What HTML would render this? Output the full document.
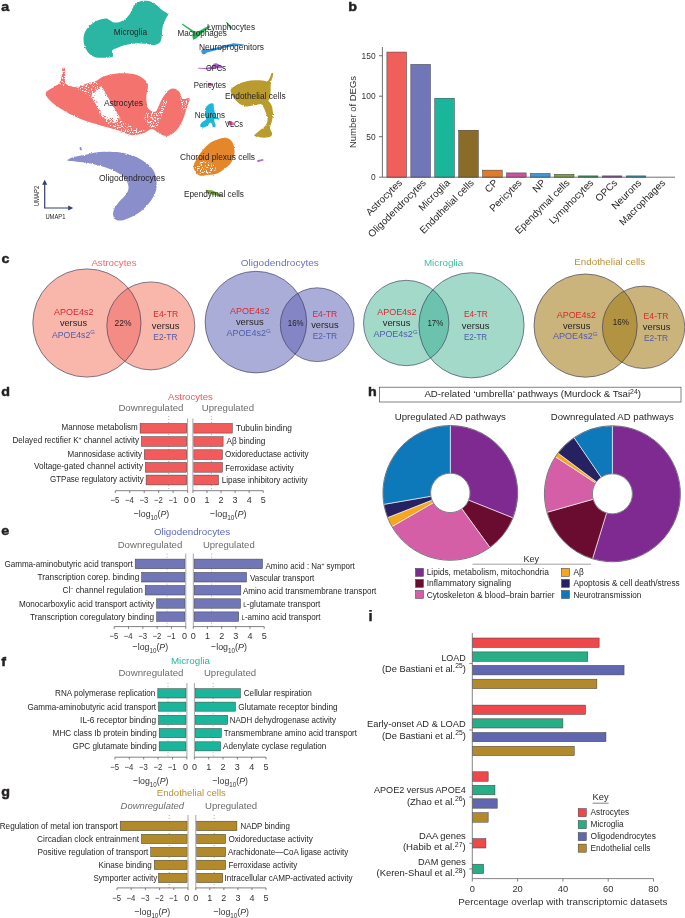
<!DOCTYPE html>
<html lang="en"><head><meta charset="utf-8"><title>Figure</title>
<style>
html,body{margin:0;padding:0;background:#fff}
body{width:685px;height:918px;overflow:hidden}
svg{display:block;font-family:'Liberation Sans', sans-serif;fill:#231f20}
</style></head><body>
<svg width="685" height="918" viewBox="0 0 685 918" font-family="'Liberation Sans', sans-serif">
<rect width="685" height="918" fill="#fff"/>
<!-- panel_a -->
<g id="panel_a">
<defs><filter id="rough" x="-5%" y="-5%" width="110%" height="110%"><feTurbulence type="fractalNoise" baseFrequency="0.9" numOctaves="2" seed="3" result="n"/><feDisplacementMap in="SourceGraphic" in2="n" scale="2.2" xChannelSelector="R" yChannelSelector="G"/></filter><filter id="rough2" x="-5%" y="-5%" width="110%" height="110%"><feTurbulence type="fractalNoise" baseFrequency="1.1" numOctaves="2" seed="8" result="n"/><feDisplacementMap in="SourceGraphic" in2="n" scale="5" xChannelSelector="R" yChannelSelector="G"/></filter><filter id="speckHi" x="0" y="0" width="100%" height="100%"><feTurbulence type="fractalNoise" baseFrequency="0.8" numOctaves="1" seed="5" result="n"/><feColorMatrix in="n" type="matrix" values="0 0 0 0 1  0 0 0 0 1  0 0 0 0 1  0 0 0 10 -4.2" result="m"/><feComposite in="m" in2="SourceGraphic" operator="in"/></filter><filter id="speckMid" x="0" y="0" width="100%" height="100%"><feTurbulence type="fractalNoise" baseFrequency="0.8" numOctaves="1" seed="11" result="n"/><feColorMatrix in="n" type="matrix" values="0 0 0 0 1  0 0 0 0 1  0 0 0 0 1  0 0 0 10 -5.1" result="m"/><feComposite in="m" in2="SourceGraphic" operator="in"/></filter><filter id="speckLo" x="0" y="0" width="100%" height="100%"><feTurbulence type="fractalNoise" baseFrequency="0.8" numOctaves="1" seed="7" result="n"/><feColorMatrix in="n" type="matrix" values="0 0 0 0 1  0 0 0 0 1  0 0 0 0 1  0 0 0 10 -5.4" result="m"/><feComposite in="m" in2="SourceGraphic" operator="in"/></filter></defs>
<text x="1.30" y="10.95" font-size="13.6" font-weight="bold" stroke="#231f20" stroke-width="0.5" textLength="7.94" lengthAdjust="spacingAndGlyphs">a</text>
<path filter="url(#rough)" d="M145.3,0.8C143.3,0.9 140.2,1.1 138.3,2.0C136.4,2.9 135.2,4.2 133.9,6.1C132.6,7.9 131.7,11.1 130.4,13.1C129.1,15.1 127.8,16.9 126.0,18.4C124.2,19.9 121.9,21.2 119.9,21.9C117.9,22.6 115.5,22.7 113.8,22.4C112.0,22.1 110.7,20.8 109.4,20.1C108.1,19.4 108.1,18.2 105.9,18.4C103.7,18.5 99.2,19.6 96.3,21.0C93.4,22.4 90.5,24.8 88.4,27.1C86.4,29.4 84.7,32.2 84.0,35.0C83.3,37.8 83.4,41.0 84.0,43.8C84.6,46.6 85.8,49.5 87.5,51.7C89.2,53.9 91.6,55.9 94.5,56.9C97.4,57.9 101.9,57.9 105.0,57.8C108.1,57.7 111.7,57.6 112.9,56.4C114.1,55.2 111.4,52.2 112.0,50.8C112.6,49.4 114.4,49.1 116.4,48.2C118.5,47.3 121.2,46.0 124.3,45.2C127.4,44.4 131.3,43.6 134.8,43.4C138.3,43.2 142.1,43.5 145.3,43.8C148.5,44.1 151.5,45.5 154.0,45.2C156.5,44.9 158.9,43.7 160.2,42.0C161.5,40.3 161.5,37.6 161.9,35.0C162.3,32.4 162.1,29.1 162.8,26.3C163.5,23.5 165.1,20.4 166.0,18.4C166.9,16.3 168.5,15.3 168.0,14.0C167.5,12.7 164.8,12.1 162.8,10.5C160.8,8.9 157.9,5.9 155.8,4.4C153.8,2.9 152.2,2.0 150.5,1.4C148.8,0.8 147.3,0.7 145.3,0.8Z" fill="#2bb6a3"/>
<path filter="url(#rough)" d="M45.8,92.7C46.4,90.4 51.6,88.7 54.0,86.9C56.4,85.2 58.6,84.4 59.9,82.2C61.2,80.0 61.6,76.4 62.0,74.0C62.4,71.6 61.9,68.9 62.4,68.0C62.9,67.1 64.5,67.3 65.0,68.6C65.5,69.9 65.2,73.5 65.3,76.0C65.4,78.5 64.1,81.6 65.7,83.4C67.3,85.2 71.5,86.9 75.0,86.9C78.5,86.9 83.2,84.4 86.7,83.4C90.2,82.4 93.3,82.1 96.0,81.0C98.7,79.9 99.5,78.0 103.0,76.8C106.5,75.6 111.9,74.1 117.0,73.6C122.1,73.1 128.8,73.0 133.5,74.0C138.2,75.0 142.6,78.0 145.0,79.9C147.4,81.9 147.7,83.7 148.0,85.7C148.3,87.7 147.3,90.0 147.0,92.0C146.7,94.0 146.3,95.4 146.3,97.4C146.3,99.4 146.6,102.1 147.0,104.0C147.4,105.9 147.6,107.8 148.6,109.0C149.6,110.2 151.6,111.3 153.0,111.5C154.4,111.7 155.4,112.2 156.8,110.2C158.2,108.2 159.8,102.8 161.5,99.7C163.2,96.6 165.4,93.4 167.3,91.5C169.2,89.6 171.2,88.5 173.2,88.5C175.1,88.5 177.4,89.8 179.0,91.5C180.6,93.2 180.8,97.4 182.5,98.6C184.2,99.8 188.7,97.1 189.5,98.4C190.3,99.8 188.4,103.0 187.2,106.7C186.0,110.4 184.4,116.6 182.5,120.7C180.6,124.8 178.0,128.8 175.5,131.3C173.0,133.9 170.0,135.6 167.3,136.0C164.6,136.4 161.8,134.8 159.2,133.6C156.6,132.4 154.7,129.0 152.0,129.0C149.3,129.0 146.3,132.6 142.8,133.6C139.3,134.6 135.3,135.6 131.0,135.0C126.7,134.4 122.0,131.6 117.0,130.0C112.0,128.4 106.5,127.1 100.7,125.4C94.9,123.7 88.2,122.1 82.0,119.6C75.8,117.1 68.7,113.3 63.4,110.2C58.1,107.1 53.4,103.8 50.5,100.9C47.6,98.0 45.2,95.0 45.8,92.7Z" fill="#f4736e"/>
<path filter="url(#rough2)" d="M96.1,91.5 L101.2,87.6 L107.8,98.6 L118.3,117.2 L114.8,119.6 L107.8,117.2 L102.6,114.9 L97.9,104.4 L94.2,97.4Z" fill="#fff"/>
<path filter="url(#speckHi)" d="M93,92 L101.5,86 L109,99 L120.5,118.5 L116,122.5 L107,119.5 L100.5,116.5 L96,105 L91.5,97Z" fill="#fff"/>
<path filter="url(#speckLo)" d="M75,84.5 L94.9,81.5 L101.2,86.9 L94.9,91.5 L92.6,98.6 L84.4,92.7 L77.4,89.2Z" fill="#fff"/>
<path filter="url(#speckLo)" d="M103,116 L119.4,118.4 L133.5,127.8 L145.1,130 L142.8,133.6 L128.8,134.3 L114.8,128.9 L105.4,123Z" fill="#fff"/>
<path filter="url(#speckMid)" d="M142.8,114.9 L149.8,110.9 L158,111.9 L163.8,98.6 L167.3,100.9 L161.5,116 L156.8,127.8 L149.8,127.8 L145.1,120.7Z" fill="#fff"/>
<path filter="url(#speckLo)" d="M180.2,95 L189.5,98.6 L186,110.2 L182,112.6Z" fill="#fff"/>
<path filter="url(#speckLo)" d="M57,86 L62,70 L66,70 L67,86Z" fill="#fff"/>
<path filter="url(#rough)" d="M67.4,160.6C66.8,159.8 70.2,158.1 73.1,157.2C75.9,156.2 80.1,155.8 84.5,154.9C88.9,154.0 94.0,152.3 99.7,151.9C105.4,151.5 113.0,151.6 118.7,152.3C124.4,153.0 129.2,154.2 133.9,156.1C138.6,158.0 143.6,160.8 147.1,163.6C150.6,166.4 153.1,169.3 154.7,173.1C156.3,176.9 156.9,182.3 156.6,186.4C156.3,190.5 155.0,194.0 152.8,197.8C150.6,201.6 146.8,206.0 143.3,209.2C139.8,212.4 135.7,214.9 131.9,216.8C128.1,218.7 123.6,220.4 120.6,220.6C117.6,220.8 115.2,219.6 114.1,217.9C112.9,216.2 112.8,213.0 113.7,210.3C114.6,207.6 117.3,204.3 119.4,201.6C121.5,198.9 124.8,196.5 126.3,194.0C127.8,191.5 128.8,189.1 128.5,186.4C128.2,183.7 126.7,180.2 124.4,177.7C122.1,175.2 118.7,173.1 114.9,171.2C111.1,169.3 106.0,167.7 101.6,166.3C97.2,164.9 92.4,163.7 88.3,162.9C84.2,162.1 80.4,162.1 76.9,161.7C73.4,161.3 68.0,161.3 67.4,160.6Z" fill="#8a8fcb"/>
<ellipse cx="80.7" cy="148.8" rx="1" ry="1.8" fill="#8a8fcb" transform="rotate(-20 80.7 148.8)"/>
<path filter="url(#rough)" d="M230.7,90.0C231.0,88.7 231.9,88.1 233.3,87.0C234.8,85.9 237.2,84.4 239.4,83.4C241.6,82.5 244.1,81.8 246.6,81.3C249.1,80.8 252.0,80.4 254.7,80.3C257.4,80.2 260.8,80.3 262.9,80.5C265.0,80.7 266.3,81.8 267.5,81.3C268.7,80.8 269.3,78.7 270.0,77.3C270.7,75.9 271.1,73.7 271.6,73.0C272.1,72.3 272.9,72.3 273.1,73.0C273.3,73.7 273.0,75.6 272.6,77.3C272.2,79.0 271.1,80.7 270.8,82.9C270.5,85.1 270.7,88.0 270.6,90.5C270.5,93.0 270.4,96.0 270.0,97.7C269.6,99.4 268.2,99.7 268.4,100.8C268.6,101.9 270.4,102.8 271.1,104.3C271.8,105.8 272.3,107.9 272.6,109.9C272.9,111.9 273.3,114.0 273.1,116.1C272.9,118.1 272.1,120.2 271.6,122.2C271.1,124.2 269.9,126.4 270.0,128.3C270.1,130.2 272.0,132.0 272.1,133.4C272.2,134.8 271.8,135.8 270.6,136.5C269.4,137.2 266.9,137.6 264.9,137.7C262.9,137.8 260.6,137.4 258.8,137.0C257.0,136.6 254.0,136.6 254.2,135.5C254.4,134.4 258.0,131.9 259.8,130.4C261.6,128.9 263.6,128.0 264.9,126.3C266.2,124.6 267.3,122.4 267.5,120.2C267.7,118.0 266.7,115.2 266.0,113.0C265.3,110.8 264.2,108.4 263.4,106.9C262.5,105.5 262.5,104.6 260.9,104.3C259.3,104.0 256.1,104.9 253.7,105.3C251.3,105.7 248.8,106.6 246.6,106.4C244.4,106.2 242.3,105.4 240.4,104.3C238.5,103.2 236.8,101.3 235.3,99.7C233.9,98.1 232.5,96.2 231.7,94.6C230.9,93.0 230.4,91.3 230.7,90.0Z" fill="#b99b2d"/>
<path filter="url(#rough)" d="M193.6,166.4C193.7,164.2 194.8,162.0 196.3,159.4C197.8,156.8 200.1,153.4 202.4,150.6C204.7,147.8 207.5,144.8 210.3,142.8C213.1,140.9 216.2,139.7 219.0,138.9C221.8,138.1 224.7,137.5 226.9,138.0C229.1,138.5 230.9,140.1 232.2,141.9C233.4,143.7 234.1,146.6 234.4,148.9C234.7,151.2 234.6,153.4 233.9,155.9C233.2,158.4 232.0,161.6 230.4,163.8C228.8,166.0 226.5,167.4 224.3,169.0C222.1,170.6 219.8,172.4 217.3,173.4C214.8,174.4 212.2,174.4 209.4,174.8C206.6,175.2 202.8,176.1 200.6,175.7C198.3,175.3 197.1,174.1 195.9,172.5C194.7,170.9 193.5,168.6 193.6,166.4Z" fill="#e3872a"/>
<path filter="url(#speckLo)" d="M195,167 L202,161 L214,164 L217,170 L208,173.5 L198,174Z" fill="#fff"/>
<path filter="url(#rough)" d="M211.3,103.3C212.0,103.1 213.2,103.2 213.5,103.8C213.8,104.4 213.7,107.1 213.9,108.1C214.1,109.1 214.5,111.5 214.8,112.5C215.1,113.5 215.9,116.2 216.5,116.9C217.1,117.6 219.3,118.2 219.6,118.5C219.9,118.8 219.2,119.5 218.7,119.6C218.2,119.7 215.7,118.9 215.2,119.1C214.7,119.3 214.3,120.6 214.3,121.3C214.3,122.0 215.5,124.1 215.6,124.8C215.7,125.5 215.5,126.7 215.2,127.0C214.9,127.3 213.5,127.5 213.0,127.0C212.5,126.5 211.7,123.5 211.3,123.0C210.9,122.5 209.9,122.7 209.5,123.0C209.1,123.3 208.5,125.1 207.9,125.6C207.3,126.1 205.1,127.2 204.3,127.4C203.5,127.6 201.3,127.3 200.8,127.0C200.3,126.7 200.1,125.4 200.3,124.8C200.5,124.2 201.8,122.3 202.5,121.7C203.2,121.1 205.7,120.3 206.0,119.5C206.3,118.7 205.4,116.3 205.3,115.1C205.2,113.9 204.8,110.2 205.1,109.0C205.4,107.8 207.2,105.8 207.9,105.1C208.6,104.4 210.6,103.5 211.3,103.3Z" fill="#1bb7d9"/>
<path d="M182,24.4 L190.5,30.6 L193,32.8 L192.6,36 L193.3,39.6 L196.2,38.2 L199.2,35.6 L205,30.8 L209.9,27.2 L209.3,25.7 L204,28.4 L199,31.3 L195.6,32.6 L190.9,29.2 L182.4,23.7Z" fill="#27ad52" stroke="#27ad52" stroke-width="0.4" stroke-linejoin="round"/>
<path d="M225.9,22.3 L227,22 L231.7,27 L231.4,28.7 L229.8,28.3 L228.4,25.6Z" fill="#27ad52"/>
<path d="M201.2,51 C201.4,49 203.5,48.4 206,49.4 L216,47.8 L226,45 L233.4,43.2 L240,44 L244,44.4 L244,45.2 L236,45.8 L226,47.6 L215,50.4 L207,52.6 C205.5,54.6 203,55 201.8,53.6Z" fill="#3b96dc"/>
<path d="M197.8,67.7 L206,68 L212,66.6 L214,63.6 L216.5,63.2 L220,65 L223.2,66.8 L222.6,68.2 L217,68.3 L211,69.2 L206.5,69.3 L198,68.6Z" fill="#ab63c9"/>
<path d="M208,82.8 L210,83 L212.5,84.2 L212,85.6 L209.5,86 L208,84.6Z" fill="#d13d9c"/>
<path d="M227.2,121.6 L230,121 L234,122.8 L233.8,125 L229,125.3 L227.5,123.6Z" fill="#ee5fae"/>
<path d="M205.8,190 L212,190.2 L222.6,195 L222,196.4 L213,195 L206.2,192.6Z" fill="#7daa3c"/>
<path d="M257,160.3 L263,158.9 L263.7,160.6 L257.6,162.2Z" fill="#b26fc9"/>
<text x="113.80" y="35.12" font-size="9.2" textLength="33.20" lengthAdjust="spacingAndGlyphs">Microglia</text>
<text x="104.00" y="106.22" font-size="9.2" textLength="39.00" lengthAdjust="spacingAndGlyphs">Astrocytes</text>
<text x="99.00" y="181.32" font-size="9.2" textLength="66.00" lengthAdjust="spacingAndGlyphs">Oligodendrocytes</text>
<text x="177.60" y="36.02" font-size="9.2" textLength="49.20" lengthAdjust="spacingAndGlyphs">Macrophages</text>
<text x="207.00" y="29.72" font-size="9.2" textLength="48.00" lengthAdjust="spacingAndGlyphs">Lymphocytes</text>
<text x="199.00" y="49.92" font-size="9.2" textLength="65.00" lengthAdjust="spacingAndGlyphs">Neuroprogenitors</text>
<text x="206.00" y="71.22" font-size="9.2" textLength="20.00" lengthAdjust="spacingAndGlyphs">OPCs</text>
<text x="193.70" y="87.52" font-size="9.2" textLength="32.30" lengthAdjust="spacingAndGlyphs">Pericytes</text>
<text x="225.00" y="99.22" font-size="9.2" textLength="60.60" lengthAdjust="spacingAndGlyphs">Endothelial cells</text>
<text x="194.70" y="117.62" font-size="9.2" textLength="30.30" lengthAdjust="spacingAndGlyphs">Neurons</text>
<text x="225.00" y="126.62" font-size="9.2" textLength="18.00" lengthAdjust="spacingAndGlyphs">VLCs</text>
<text x="180.00" y="160.02" font-size="9.2" textLength="75.00" lengthAdjust="spacingAndGlyphs">Choroid plexus cells</text>
<text x="184.00" y="197.32" font-size="9.2" textLength="60.00" lengthAdjust="spacingAndGlyphs">Ependymal cells</text>
<g stroke="#34406f" stroke-width="1.2" fill="none"><path d="M44.7,183 V208 H70"/></g>
<path d="M44.7,179.8 L42.1,184.8 H47.3Z M73.2,208 L68.2,205.4 V210.6Z" fill="#34406f"/>
<text x="39.30" y="196.00" font-size="6.3" text-anchor="middle" textLength="20.50" lengthAdjust="spacingAndGlyphs" transform="rotate(-90 39.3 196)">UMAP2</text>
<text x="45.40" y="219.01" font-size="6.3" textLength="20.10" lengthAdjust="spacingAndGlyphs">UMAP1</text>
</g>
<!-- panel_b -->
<g id="panel_b">
<text x="348.30" y="10.70" font-size="13.6" font-weight="bold" stroke="#231f20" stroke-width="0.5" textLength="8.72" lengthAdjust="spacingAndGlyphs">b</text>
<rect x="386.90" y="52.05" width="19.6" height="125.15" fill="#f05f5a" stroke="#3c3c3c" stroke-width="0.5"/>
<text x="402.70" y="183.40" font-size="9.95" text-anchor="end" transform="rotate(-45 402.70 183.40)">Astrocytes</text>
<rect x="410.83" y="64.37" width="19.6" height="112.83" fill="#7176b8" stroke="#3c3c3c" stroke-width="0.5"/>
<text x="426.63" y="183.40" font-size="9.95" text-anchor="end" transform="rotate(-45 426.63 183.40)">Oligodendrocytes</text>
<rect x="434.76" y="98.22" width="19.6" height="78.98" fill="#1ab69b" stroke="#3c3c3c" stroke-width="0.5"/>
<text x="450.56" y="183.40" font-size="9.95" text-anchor="end" transform="rotate(-45 450.56 183.40)">Microglia</text>
<rect x="458.69" y="130.22" width="19.6" height="46.98" fill="#8a6b27" stroke="#3c3c3c" stroke-width="0.5"/>
<text x="474.49" y="183.40" font-size="9.95" text-anchor="end" transform="rotate(-45 474.49 183.40)">Endothelial cells</text>
<rect x="482.62" y="170.15" width="19.6" height="7.05" fill="#e07b2b" stroke="#3c3c3c" stroke-width="0.5"/>
<text x="498.42" y="183.40" font-size="9.95" text-anchor="end" transform="rotate(-45 498.42 183.40)">CP</text>
<rect x="506.55" y="172.91" width="19.6" height="4.29" fill="#d14fa3" stroke="#3c3c3c" stroke-width="0.5"/>
<text x="522.35" y="183.40" font-size="9.95" text-anchor="end" transform="rotate(-45 522.35 183.40)">Pericytes</text>
<rect x="530.48" y="173.47" width="19.6" height="3.73" fill="#3f97d6" stroke="#3c3c3c" stroke-width="0.5"/>
<text x="546.28" y="183.40" font-size="9.95" text-anchor="end" transform="rotate(-45 546.28 183.40)">NP</text>
<rect x="554.41" y="174.28" width="19.6" height="2.92" fill="#7aa646" stroke="#3c3c3c" stroke-width="0.5"/>
<text x="570.21" y="183.40" font-size="9.95" text-anchor="end" transform="rotate(-45 570.21 183.40)">Ependymal cells</text>
<rect x="578.34" y="175.90" width="19.6" height="1.30" fill="#2e9a57" stroke="#3c3c3c" stroke-width="0.5"/>
<text x="594.14" y="183.40" font-size="9.95" text-anchor="end" transform="rotate(-45 594.14 183.40)">Lymphocytes</text>
<rect x="602.27" y="175.90" width="19.6" height="1.30" fill="#8f4fa3" stroke="#3c3c3c" stroke-width="0.5"/>
<text x="618.07" y="183.40" font-size="9.95" text-anchor="end" transform="rotate(-45 618.07 183.40)">OPCs</text>
<rect x="626.20" y="175.90" width="19.6" height="1.30" fill="#2a93b5" stroke="#3c3c3c" stroke-width="0.5"/>
<text x="642.00" y="183.40" font-size="9.95" text-anchor="end" transform="rotate(-45 642.00 183.40)">Neurons</text>
<text x="665.93" y="183.40" font-size="9.95" text-anchor="end" transform="rotate(-45 665.93 183.40)">Macrophages</text>
<path d="M382.4,47 V177.2 H675" fill="none" stroke="#4d4d4d" stroke-width="0.8"/>
<path d="M379,177.20 H382.4" stroke="#4d4d4d" stroke-width="0.8"/>
<text x="375.60" y="180.10" font-size="8.4" text-anchor="end" fill="#333">0</text>
<path d="M379,136.70 H382.4" stroke="#4d4d4d" stroke-width="0.8"/>
<text x="375.60" y="139.60" font-size="8.4" text-anchor="end" fill="#333">50</text>
<path d="M379,96.20 H382.4" stroke="#4d4d4d" stroke-width="0.8"/>
<text x="375.60" y="99.10" font-size="8.4" text-anchor="end" fill="#333">100</text>
<path d="M379,55.70 H382.4" stroke="#4d4d4d" stroke-width="0.8"/>
<text x="375.60" y="58.60" font-size="8.4" text-anchor="end" fill="#333">150</text>
<text x="356.30" y="112.00" font-size="9.3" text-anchor="middle" fill="#333" textLength="72.00" lengthAdjust="spacingAndGlyphs" transform="rotate(-90 356.3 112)">Number of DEGs</text>
</g>
<!-- panel_c -->
<g id="panel_c">
<text x="1.45" y="262.65" font-size="13.6" font-weight="bold" stroke="#231f20" stroke-width="0.5" textLength="7.94" lengthAdjust="spacingAndGlyphs">c</text>
<clipPath id="vc1"><circle cx="86.9" cy="323" r="54.1"/></clipPath>
<circle cx="86.9" cy="323" r="54.1" fill="#f9b7ab"/>
<circle cx="150.8" cy="325.9" r="44" fill="#f9b7ab"/>
<circle cx="150.8" cy="325.9" r="44" fill="#f48c86" clip-path="url(#vc1)"/>
<circle cx="86.9" cy="323" r="54.1" fill="none" stroke="#2f3150" stroke-width="0.6"/>
<circle cx="150.8" cy="325.9" r="44" fill="none" stroke="#2f3150" stroke-width="0.6"/>
<text x="91.40" y="265.56" font-size="9.3" fill="#f2686b" textLength="45.20" lengthAdjust="spacingAndGlyphs">Astrocytes</text>
<text x="54.00" y="315.05" font-size="9.0" fill="#d7282f" textLength="39.40" lengthAdjust="spacingAndGlyphs">APOE4s2</text>
<text x="59.90" y="326.15" font-size="9.0" textLength="27.10" lengthAdjust="spacingAndGlyphs">versus</text>
<text x="52.00" y="337.85" font-size="9.0" fill="#4f5bab" textLength="42.90" lengthAdjust="spacingAndGlyphs">APOE4s2<tspan font-size="6.2" dy="-3.5">G</tspan></text>
<text x="114.50" y="326.15" font-size="9.0" textLength="16.90" lengthAdjust="spacingAndGlyphs">22%</text>
<text x="153.30" y="316.75" font-size="9.0" fill="#d7282f" textLength="24.80" lengthAdjust="spacingAndGlyphs">E4-TR</text>
<text x="151.80" y="329.05" font-size="9.0" textLength="27.80" lengthAdjust="spacingAndGlyphs">versus</text>
<text x="153.30" y="339.85" font-size="9.0" fill="#4f5bab" textLength="24.20" lengthAdjust="spacingAndGlyphs">E2-TR</text>
<clipPath id="vc2"><circle cx="255.9" cy="322.1" r="50.8"/></clipPath>
<circle cx="255.9" cy="322.1" r="50.8" fill="#abadd9"/>
<circle cx="317.2" cy="324.7" r="36.9" fill="#abadd9"/>
<circle cx="317.2" cy="324.7" r="36.9" fill="#8385c4" clip-path="url(#vc2)"/>
<circle cx="255.9" cy="322.1" r="50.8" fill="none" stroke="#2f3150" stroke-width="0.6"/>
<circle cx="317.2" cy="324.7" r="36.9" fill="none" stroke="#2f3150" stroke-width="0.6"/>
<text x="240.80" y="265.56" font-size="9.3" fill="#6c70c0" textLength="78.00" lengthAdjust="spacingAndGlyphs">Oligodendrocytes</text>
<text x="230.00" y="314.45" font-size="9.0" fill="#d7282f" textLength="39.50" lengthAdjust="spacingAndGlyphs">APOE4s2</text>
<text x="235.90" y="325.45" font-size="9.0" textLength="27.70" lengthAdjust="spacingAndGlyphs">versus</text>
<text x="226.50" y="336.35" font-size="9.0" fill="#4f5bab" textLength="44.40" lengthAdjust="spacingAndGlyphs">APOE4s2<tspan font-size="6.2" dy="-3.5">G</tspan></text>
<text x="287.80" y="325.55" font-size="9.0" textLength="15.80" lengthAdjust="spacingAndGlyphs">16%</text>
<text x="312.40" y="316.55" font-size="9.0" fill="#d7282f" textLength="24.80" lengthAdjust="spacingAndGlyphs">E4-TR</text>
<text x="311.20" y="328.15" font-size="9.0" textLength="27.40" lengthAdjust="spacingAndGlyphs">versus</text>
<text x="312.70" y="339.25" font-size="9.0" fill="#4f5bab" textLength="24.50" lengthAdjust="spacingAndGlyphs">E2-TR</text>
<clipPath id="vc3"><circle cx="406.2" cy="323" r="42.7"/></clipPath>
<circle cx="406.2" cy="323" r="42.7" fill="#a3d9c9"/>
<circle cx="471.5" cy="325.3" r="52.6" fill="#a3d9c9"/>
<circle cx="471.5" cy="325.3" r="52.6" fill="#6cc3ad" clip-path="url(#vc3)"/>
<circle cx="406.2" cy="323" r="42.7" fill="none" stroke="#2f3150" stroke-width="0.6"/>
<circle cx="471.5" cy="325.3" r="52.6" fill="none" stroke="#2f3150" stroke-width="0.6"/>
<text x="423.90" y="265.56" font-size="9.3" fill="#3cbfa2" textLength="39.40" lengthAdjust="spacingAndGlyphs">Microglia</text>
<text x="377.20" y="315.05" font-size="9.0" fill="#d7282f" textLength="39.40" lengthAdjust="spacingAndGlyphs">APOE4s2</text>
<text x="382.70" y="325.55" font-size="9.0" textLength="27.70" lengthAdjust="spacingAndGlyphs">versus</text>
<text x="373.40" y="337.15" font-size="9.0" fill="#4f5bab" textLength="44.30" lengthAdjust="spacingAndGlyphs">APOE4s2<tspan font-size="6.2" dy="-3.5">G</tspan></text>
<text x="427.40" y="325.55" font-size="9.0" textLength="16.00" lengthAdjust="spacingAndGlyphs">17%</text>
<text x="463.90" y="316.75" font-size="9.0" fill="#d7282f" textLength="23.90" lengthAdjust="spacingAndGlyphs">E4-TR</text>
<text x="461.80" y="329.05" font-size="9.0" textLength="27.80" lengthAdjust="spacingAndGlyphs">versus</text>
<text x="463.90" y="339.85" font-size="9.0" fill="#4f5bab" textLength="23.30" lengthAdjust="spacingAndGlyphs">E2-TR</text>
<clipPath id="vc4"><circle cx="585.6" cy="325.6" r="51.6"/></clipPath>
<circle cx="585.6" cy="325.6" r="51.6" fill="#cbb37c"/>
<circle cx="643.6" cy="327.3" r="41.2" fill="#cbb37c"/>
<circle cx="643.6" cy="327.3" r="41.2" fill="#b29342" clip-path="url(#vc4)"/>
<circle cx="585.6" cy="325.6" r="51.6" fill="none" stroke="#2f3150" stroke-width="0.6"/>
<circle cx="643.6" cy="327.3" r="41.2" fill="none" stroke="#2f3150" stroke-width="0.6"/>
<text x="574.20" y="264.86" font-size="9.3" fill="#b8933a" textLength="71.00" lengthAdjust="spacingAndGlyphs">Endothelial cells</text>
<text x="556.80" y="317.65" font-size="9.0" fill="#d7282f" textLength="39.10" lengthAdjust="spacingAndGlyphs">APOE4s2</text>
<text x="562.90" y="329.05" font-size="9.0" textLength="27.40" lengthAdjust="spacingAndGlyphs">versus</text>
<text x="553.00" y="339.35" font-size="9.0" fill="#4f5bab" textLength="44.60" lengthAdjust="spacingAndGlyphs">APOE4s2<tspan font-size="6.2" dy="-3.5">G</tspan></text>
<text x="612.70" y="325.45" font-size="9.0" textLength="16.20" lengthAdjust="spacingAndGlyphs">16%</text>
<text x="643.60" y="318.65" font-size="9.0" fill="#d7282f" textLength="25.00" lengthAdjust="spacingAndGlyphs">E4-TR</text>
<text x="642.80" y="330.25" font-size="9.0" textLength="27.70" lengthAdjust="spacingAndGlyphs">versus</text>
<text x="644.00" y="341.05" font-size="9.0" fill="#4f5bab" textLength="24.10" lengthAdjust="spacingAndGlyphs">E2-TR</text>
</g>
<!-- panel_dg -->
<g id="panel_dg">
<text x="1.30" y="396.35" font-size="13.6" font-weight="bold" stroke="#231f20" stroke-width="0.5" textLength="8.72" lengthAdjust="spacingAndGlyphs">d</text>
<text x="168.10" y="399.95" font-size="9.3" fill="#f0575a" textLength="44.70" lengthAdjust="spacingAndGlyphs">Astrocytes</text>
<text x="118.40" y="411.25" font-size="9.3" fill="#6b6b6b" textLength="65.00" lengthAdjust="spacingAndGlyphs">Downregulated</text>
<text x="201.80" y="411.25" font-size="9.3" fill="#6b6b6b" textLength="52.20" lengthAdjust="spacingAndGlyphs">Upregulated</text>
<path d="M168.7,416 V490.7" stroke="#555" stroke-width="0.6" stroke-dasharray="0.8,2.2" fill="none"/>
<path d="M211.4,416 V490.7" stroke="#555" stroke-width="0.6" stroke-dasharray="0.8,2.2" fill="none"/>
<rect x="140.10" y="423.50" width="46.60" height="9.60" fill="#f15b5b" stroke="#3c3c3c" stroke-width="0.5"/>
<rect x="193.80" y="423.50" width="38.50" height="9.60" fill="#f15b5b" stroke="#3c3c3c" stroke-width="0.5"/>
<text x="61.60" y="430.20" font-size="8.4" textLength="76.10" lengthAdjust="spacingAndGlyphs">Mannose metabolism</text>
<text x="235.90" y="430.90" font-size="8.4" textLength="56.00" lengthAdjust="spacingAndGlyphs">Tubulin binding</text>
<rect x="141.50" y="436.70" width="45.20" height="9.60" fill="#f15b5b" stroke="#3c3c3c" stroke-width="0.5"/>
<rect x="193.80" y="436.70" width="29.30" height="9.60" fill="#f15b5b" stroke="#3c3c3c" stroke-width="0.5"/>
<text x="12.50" y="443.40" font-size="8.4" textLength="126.60" lengthAdjust="spacingAndGlyphs">Delayed rectifier K<tspan font-size="5.4" dy="-3">+</tspan><tspan dy="3"> channel activity</tspan></text>
<text x="226.60" y="444.10" font-size="8.4" textLength="38.70" lengthAdjust="spacingAndGlyphs">Aβ binding</text>
<rect x="144.30" y="449.80" width="42.40" height="9.60" fill="#f15b5b" stroke="#3c3c3c" stroke-width="0.5"/>
<rect x="193.80" y="449.80" width="28.60" height="9.60" fill="#f15b5b" stroke="#3c3c3c" stroke-width="0.5"/>
<text x="67.60" y="456.50" font-size="8.4" textLength="74.30" lengthAdjust="spacingAndGlyphs">Mannosidase activity</text>
<text x="224.90" y="457.20" font-size="8.4" textLength="83.70" lengthAdjust="spacingAndGlyphs">Oxidoreductase activity</text>
<rect x="145.40" y="462.50" width="41.30" height="9.70" fill="#f15b5b" stroke="#3c3c3c" stroke-width="0.5"/>
<rect x="193.80" y="462.50" width="28.60" height="9.70" fill="#f15b5b" stroke="#3c3c3c" stroke-width="0.5"/>
<text x="34.00" y="469.25" font-size="8.4" textLength="109.00" lengthAdjust="spacingAndGlyphs">Voltage-gated channel activity</text>
<text x="225.20" y="470.75" font-size="8.4" textLength="68.50" lengthAdjust="spacingAndGlyphs">Ferroxidase activity</text>
<rect x="146.10" y="475.10" width="40.60" height="9.80" fill="#f15b5b" stroke="#3c3c3c" stroke-width="0.5"/>
<rect x="193.80" y="475.10" width="24.70" height="9.80" fill="#f15b5b" stroke="#3c3c3c" stroke-width="0.5"/>
<text x="50.00" y="481.90" font-size="8.4" textLength="93.70" lengthAdjust="spacingAndGlyphs">GTPase regulatory activity</text>
<text x="221.70" y="482.60" font-size="8.4" textLength="85.80" lengthAdjust="spacingAndGlyphs">Lipase inhibitory activity</text>
<path d="M187.6,418.5 V490.7 M192.9,418.5 V490.7" stroke="#9a9a9a" stroke-width="0.9" fill="none"/>
<path d="M115.3,490.7 H187.6 M192.9,490.7 H263.2" stroke="#4d4d4d" stroke-width="0.7" fill="none"/>
<path d="M115.30,490.7 v2.2 M192.90,490.7 v2.2" stroke="#4d4d4d" stroke-width="0.7"/>
<text x="115.00" y="502.90" font-size="9.0" text-anchor="middle" fill="#333" textLength="8.80" lengthAdjust="spacingAndGlyphs">−5</text>
<text x="192.90" y="502.90" font-size="9.0" text-anchor="middle" fill="#333">0</text>
<path d="M129.76,490.7 v2.2 M206.96,490.7 v2.2" stroke="#4d4d4d" stroke-width="0.7"/>
<text x="129.46" y="502.90" font-size="9.0" text-anchor="middle" fill="#333" textLength="8.80" lengthAdjust="spacingAndGlyphs">−4</text>
<text x="206.96" y="502.90" font-size="9.0" text-anchor="middle" fill="#333">1</text>
<path d="M144.22,490.7 v2.2 M221.02,490.7 v2.2" stroke="#4d4d4d" stroke-width="0.7"/>
<text x="143.92" y="502.90" font-size="9.0" text-anchor="middle" fill="#333" textLength="8.80" lengthAdjust="spacingAndGlyphs">−3</text>
<text x="221.02" y="502.90" font-size="9.0" text-anchor="middle" fill="#333">2</text>
<path d="M158.68,490.7 v2.2 M235.08,490.7 v2.2" stroke="#4d4d4d" stroke-width="0.7"/>
<text x="158.38" y="502.90" font-size="9.0" text-anchor="middle" fill="#333" textLength="8.80" lengthAdjust="spacingAndGlyphs">−2</text>
<text x="235.08" y="502.90" font-size="9.0" text-anchor="middle" fill="#333">3</text>
<path d="M173.14,490.7 v2.2 M249.14,490.7 v2.2" stroke="#4d4d4d" stroke-width="0.7"/>
<text x="172.84" y="502.90" font-size="9.0" text-anchor="middle" fill="#333" textLength="8.80" lengthAdjust="spacingAndGlyphs">−1</text>
<text x="249.14" y="502.90" font-size="9.0" text-anchor="middle" fill="#333">4</text>
<path d="M187.60,490.7 v2.2 M263.20,490.7 v2.2" stroke="#4d4d4d" stroke-width="0.7"/>
<text x="186.30" y="502.90" font-size="9.0" text-anchor="middle" fill="#333">0</text>
<text x="263.20" y="502.90" font-size="9.0" text-anchor="middle" fill="#333">5</text>
<text x="133.70" y="517.00" font-size="9.9" fill="#333" textLength="35.50" lengthAdjust="spacingAndGlyphs">−log<tspan font-size="7" dy="2.8">10</tspan><tspan dy="-2.8">(</tspan><tspan font-style="italic">P</tspan>)</text>
<text x="210.00" y="517.00" font-size="9.9" fill="#333" textLength="36.50" lengthAdjust="spacingAndGlyphs">−log<tspan font-size="7" dy="2.8">10</tspan><tspan dy="-2.8">(</tspan><tspan font-style="italic">P</tspan>)</text>
<text x="1.30" y="535.05" font-size="13.6" font-weight="bold" stroke="#231f20" stroke-width="0.5" textLength="7.94" lengthAdjust="spacingAndGlyphs">e</text>
<text x="153.90" y="534.96" font-size="9.3" fill="#5f66bd" textLength="76.30" lengthAdjust="spacingAndGlyphs">Oligodendrocytes</text>
<text x="117.70" y="548.25" font-size="9.3" fill="#6b6b6b" textLength="64.60" lengthAdjust="spacingAndGlyphs">Downregulated</text>
<text x="202.90" y="548.25" font-size="9.3" fill="#6b6b6b" textLength="51.80" lengthAdjust="spacingAndGlyphs">Upregulated</text>
<path d="M167.0,553.7 V626.6" stroke="#555" stroke-width="0.6" stroke-dasharray="0.8,2.2" fill="none"/>
<path d="M211.6,553.7 V626.6" stroke="#555" stroke-width="0.6" stroke-dasharray="0.8,2.2" fill="none"/>
<rect x="135.20" y="559.10" width="49.70" height="9.60" fill="#7176b8" stroke="#3c3c3c" stroke-width="0.5"/>
<rect x="194.20" y="559.10" width="68.30" height="9.60" fill="#7176b8" stroke="#3c3c3c" stroke-width="0.5"/>
<text x="4.40" y="567.00" font-size="8.4" textLength="128.40" lengthAdjust="spacingAndGlyphs">Gamma-aminobutyric acid transport</text>
<text x="265.50" y="568.70" font-size="8.4" textLength="89.30" lengthAdjust="spacingAndGlyphs">Amino acid : Na<tspan font-size="5.4" dy="-3">+</tspan><tspan dy="3"> symport</tspan></text>
<rect x="141.70" y="572.40" width="43.20" height="9.60" fill="#7176b8" stroke="#3c3c3c" stroke-width="0.5"/>
<rect x="194.20" y="572.40" width="52.30" height="9.60" fill="#7176b8" stroke="#3c3c3c" stroke-width="0.5"/>
<text x="37.50" y="580.30" font-size="8.4" textLength="101.80" lengthAdjust="spacingAndGlyphs">Transcription corep. binding</text>
<text x="250.00" y="581.20" font-size="8.4" textLength="64.30" lengthAdjust="spacingAndGlyphs">Vascular transport</text>
<rect x="145.20" y="585.50" width="39.70" height="9.50" fill="#7176b8" stroke="#3c3c3c" stroke-width="0.5"/>
<rect x="194.20" y="585.50" width="46.60" height="9.50" fill="#7176b8" stroke="#3c3c3c" stroke-width="0.5"/>
<text x="62.50" y="593.35" font-size="8.4" textLength="80.30" lengthAdjust="spacingAndGlyphs">Cl<tspan font-size="5.4" dy="-3">−</tspan><tspan dy="3"> channel regulation</tspan></text>
<text x="242.90" y="593.95" font-size="8.4" textLength="133.50" lengthAdjust="spacingAndGlyphs">Amino acid transmembrane transport</text>
<rect x="156.60" y="598.80" width="28.30" height="9.40" fill="#7176b8" stroke="#3c3c3c" stroke-width="0.5"/>
<rect x="194.20" y="598.80" width="46.30" height="9.40" fill="#7176b8" stroke="#3c3c3c" stroke-width="0.5"/>
<text x="19.00" y="606.60" font-size="8.4" textLength="135.20" lengthAdjust="spacingAndGlyphs">Monocarboxylic acid transport activity</text>
<text x="243.30" y="606.60" font-size="8.4" textLength="77.00" lengthAdjust="spacingAndGlyphs"><tspan font-size="6.4">L</tspan>-glutamate transport</text>
<rect x="156.60" y="611.90" width="28.30" height="9.40" fill="#7176b8" stroke="#3c3c3c" stroke-width="0.5"/>
<rect x="194.20" y="611.90" width="44.50" height="9.40" fill="#7176b8" stroke="#3c3c3c" stroke-width="0.5"/>
<text x="30.00" y="619.70" font-size="8.4" textLength="124.20" lengthAdjust="spacingAndGlyphs">Transcription coregulatory binding</text>
<text x="241.50" y="619.70" font-size="8.4" textLength="79.10" lengthAdjust="spacingAndGlyphs"><tspan font-size="6.4">L</tspan>-amino acid transport</text>
<path d="M185.8,553.5 V626.6 M193.3,553.5 V626.6" stroke="#9a9a9a" stroke-width="0.9" fill="none"/>
<path d="M114.2,626.6 H185.8 M193.3,626.6 H264.2" stroke="#4d4d4d" stroke-width="0.7" fill="none"/>
<path d="M114.20,626.6 v2.2 M193.30,626.6 v2.2" stroke="#4d4d4d" stroke-width="0.7"/>
<text x="113.90" y="639.30" font-size="9.0" text-anchor="middle" fill="#333" textLength="8.80" lengthAdjust="spacingAndGlyphs">−5</text>
<text x="193.30" y="639.30" font-size="9.0" text-anchor="middle" fill="#333">0</text>
<path d="M128.52,626.6 v2.2 M207.48,626.6 v2.2" stroke="#4d4d4d" stroke-width="0.7"/>
<text x="128.22" y="639.30" font-size="9.0" text-anchor="middle" fill="#333" textLength="8.80" lengthAdjust="spacingAndGlyphs">−4</text>
<text x="207.48" y="639.30" font-size="9.0" text-anchor="middle" fill="#333">1</text>
<path d="M142.84,626.6 v2.2 M221.66,626.6 v2.2" stroke="#4d4d4d" stroke-width="0.7"/>
<text x="142.54" y="639.30" font-size="9.0" text-anchor="middle" fill="#333" textLength="8.80" lengthAdjust="spacingAndGlyphs">−3</text>
<text x="221.66" y="639.30" font-size="9.0" text-anchor="middle" fill="#333">2</text>
<path d="M157.16,626.6 v2.2 M235.84,626.6 v2.2" stroke="#4d4d4d" stroke-width="0.7"/>
<text x="156.86" y="639.30" font-size="9.0" text-anchor="middle" fill="#333" textLength="8.80" lengthAdjust="spacingAndGlyphs">−2</text>
<text x="235.84" y="639.30" font-size="9.0" text-anchor="middle" fill="#333">3</text>
<path d="M171.48,626.6 v2.2 M250.02,626.6 v2.2" stroke="#4d4d4d" stroke-width="0.7"/>
<text x="171.18" y="639.30" font-size="9.0" text-anchor="middle" fill="#333" textLength="8.80" lengthAdjust="spacingAndGlyphs">−1</text>
<text x="250.02" y="639.30" font-size="9.0" text-anchor="middle" fill="#333">4</text>
<path d="M185.80,626.6 v2.2 M264.20,626.6 v2.2" stroke="#4d4d4d" stroke-width="0.7"/>
<text x="184.50" y="639.30" font-size="9.0" text-anchor="middle" fill="#333">0</text>
<text x="264.20" y="639.30" font-size="9.0" text-anchor="middle" fill="#333">5</text>
<text x="132.60" y="650.20" font-size="9.9" fill="#333" textLength="35.50" lengthAdjust="spacingAndGlyphs">−log<tspan font-size="7" dy="2.8">10</tspan><tspan dy="-2.8">(</tspan><tspan font-style="italic">P</tspan>)</text>
<text x="211.00" y="650.20" font-size="9.9" fill="#333" textLength="35.90" lengthAdjust="spacingAndGlyphs">−log<tspan font-size="7" dy="2.8">10</tspan><tspan dy="-2.8">(</tspan><tspan font-style="italic">P</tspan>)</text>
<text x="1.30" y="665.65" font-size="13.6" font-weight="bold" stroke="#231f20" stroke-width="0.5" textLength="4.76" lengthAdjust="spacingAndGlyphs">f</text>
<text x="170.90" y="663.96" font-size="9.3" fill="#1fb89c" textLength="39.10" lengthAdjust="spacingAndGlyphs">Microglia</text>
<text x="118.40" y="675.96" font-size="9.3" fill="#6b6b6b" textLength="65.00" lengthAdjust="spacingAndGlyphs">Downregulated</text>
<text x="203.90" y="675.96" font-size="9.3" fill="#6b6b6b" textLength="52.20" lengthAdjust="spacingAndGlyphs">Upregulated</text>
<path d="M168.0,683.4 V757.2" stroke="#555" stroke-width="0.6" stroke-dasharray="0.8,2.2" fill="none"/>
<path d="M213.1,683.4 V757.2" stroke="#555" stroke-width="0.6" stroke-dasharray="0.8,2.2" fill="none"/>
<rect x="157.80" y="688.70" width="28.20" height="9.30" fill="#1ab69b" stroke="#3c3c3c" stroke-width="0.5"/>
<rect x="195.30" y="688.70" width="45.20" height="9.30" fill="#1ab69b" stroke="#3c3c3c" stroke-width="0.5"/>
<text x="55.10" y="696.25" font-size="8.4" textLength="100.30" lengthAdjust="spacingAndGlyphs">RNA polymerase replication</text>
<text x="243.70" y="696.25" font-size="8.4" textLength="68.10" lengthAdjust="spacingAndGlyphs">Cellular respiration</text>
<rect x="158.50" y="702.10" width="27.50" height="9.10" fill="#1ab69b" stroke="#3c3c3c" stroke-width="0.5"/>
<rect x="195.30" y="702.10" width="40.20" height="9.10" fill="#1ab69b" stroke="#3c3c3c" stroke-width="0.5"/>
<text x="27.50" y="709.55" font-size="8.4" textLength="128.60" lengthAdjust="spacingAndGlyphs">Gamma-aminobutyric acid transport</text>
<text x="238.30" y="709.55" font-size="8.4" textLength="99.40" lengthAdjust="spacingAndGlyphs">Glutamate receptor binding</text>
<rect x="158.50" y="715.30" width="27.50" height="9.10" fill="#1ab69b" stroke="#3c3c3c" stroke-width="0.5"/>
<rect x="195.30" y="715.30" width="32.40" height="9.10" fill="#1ab69b" stroke="#3c3c3c" stroke-width="0.5"/>
<text x="80.10" y="722.75" font-size="8.4" textLength="76.00" lengthAdjust="spacingAndGlyphs">IL-6 receptor binding</text>
<text x="229.80" y="722.75" font-size="8.4" textLength="106.10" lengthAdjust="spacingAndGlyphs">NADH dehydrogenase activity</text>
<rect x="159.20" y="728.50" width="26.80" height="9.20" fill="#1ab69b" stroke="#3c3c3c" stroke-width="0.5"/>
<rect x="195.30" y="728.50" width="26.00" height="9.20" fill="#1ab69b" stroke="#3c3c3c" stroke-width="0.5"/>
<text x="52.60" y="736.00" font-size="8.4" textLength="104.20" lengthAdjust="spacingAndGlyphs">MHC class Ib protein binding</text>
<text x="223.70" y="736.00" font-size="8.4" textLength="133.30" lengthAdjust="spacingAndGlyphs">Transmembrane amino acid transport</text>
<rect x="159.20" y="741.80" width="26.80" height="9.10" fill="#1ab69b" stroke="#3c3c3c" stroke-width="0.5"/>
<rect x="195.30" y="741.80" width="25.30" height="9.10" fill="#1ab69b" stroke="#3c3c3c" stroke-width="0.5"/>
<text x="72.60" y="749.25" font-size="8.4" textLength="84.20" lengthAdjust="spacingAndGlyphs">GPC glutamate binding</text>
<text x="223.10" y="749.25" font-size="8.4" textLength="103.20" lengthAdjust="spacingAndGlyphs">Adenylate cyclase regulation</text>
<path d="M186.9,683 V757.2 M194.4,683 V757.2" stroke="#9a9a9a" stroke-width="0.9" fill="none"/>
<path d="M114.9,757.2 H186.9 M194.4,757.2 H266" stroke="#4d4d4d" stroke-width="0.7" fill="none"/>
<path d="M114.90,757.2 v2.2 M194.40,757.2 v2.2" stroke="#4d4d4d" stroke-width="0.7"/>
<text x="114.60" y="770.40" font-size="9.0" text-anchor="middle" fill="#333" textLength="8.80" lengthAdjust="spacingAndGlyphs">−5</text>
<text x="194.40" y="770.40" font-size="9.0" text-anchor="middle" fill="#333">0</text>
<path d="M129.30,757.2 v2.2 M208.72,757.2 v2.2" stroke="#4d4d4d" stroke-width="0.7"/>
<text x="129.00" y="770.40" font-size="9.0" text-anchor="middle" fill="#333" textLength="8.80" lengthAdjust="spacingAndGlyphs">−4</text>
<text x="208.72" y="770.40" font-size="9.0" text-anchor="middle" fill="#333">1</text>
<path d="M143.70,757.2 v2.2 M223.04,757.2 v2.2" stroke="#4d4d4d" stroke-width="0.7"/>
<text x="143.40" y="770.40" font-size="9.0" text-anchor="middle" fill="#333" textLength="8.80" lengthAdjust="spacingAndGlyphs">−3</text>
<text x="223.04" y="770.40" font-size="9.0" text-anchor="middle" fill="#333">2</text>
<path d="M158.10,757.2 v2.2 M237.36,757.2 v2.2" stroke="#4d4d4d" stroke-width="0.7"/>
<text x="157.80" y="770.40" font-size="9.0" text-anchor="middle" fill="#333" textLength="8.80" lengthAdjust="spacingAndGlyphs">−2</text>
<text x="237.36" y="770.40" font-size="9.0" text-anchor="middle" fill="#333">3</text>
<path d="M172.50,757.2 v2.2 M251.68,757.2 v2.2" stroke="#4d4d4d" stroke-width="0.7"/>
<text x="172.20" y="770.40" font-size="9.0" text-anchor="middle" fill="#333" textLength="8.80" lengthAdjust="spacingAndGlyphs">−1</text>
<text x="251.68" y="770.40" font-size="9.0" text-anchor="middle" fill="#333">4</text>
<path d="M186.90,757.2 v2.2 M266.00,757.2 v2.2" stroke="#4d4d4d" stroke-width="0.7"/>
<text x="185.60" y="770.40" font-size="9.0" text-anchor="middle" fill="#333">0</text>
<text x="266.00" y="770.40" font-size="9.0" text-anchor="middle" fill="#333">5</text>
<text x="133.00" y="783.80" font-size="9.9" fill="#333" textLength="35.50" lengthAdjust="spacingAndGlyphs">−log<tspan font-size="7" dy="2.8">10</tspan><tspan dy="-2.8">(</tspan><tspan font-style="italic">P</tspan>)</text>
<text x="212.50" y="783.80" font-size="9.9" fill="#333" textLength="35.40" lengthAdjust="spacingAndGlyphs">−log<tspan font-size="7" dy="2.8">10</tspan><tspan dy="-2.8">(</tspan><tspan font-style="italic">P</tspan>)</text>
<text x="1.30" y="796.05" font-size="13.6" font-weight="bold" stroke="#231f20" stroke-width="0.5" textLength="8.72" lengthAdjust="spacingAndGlyphs">g</text>
<text x="156.80" y="796.05" font-size="9.3" fill="#b8922f" textLength="69.10" lengthAdjust="spacingAndGlyphs">Endothelial cells</text>
<text x="120.60" y="808.86" font-size="9.3" fill="#6b6b6b" textLength="63.50" lengthAdjust="spacingAndGlyphs" font-style="italic">Downregulated</text>
<text x="205.00" y="808.86" font-size="9.3" fill="#6b6b6b" textLength="52.10" lengthAdjust="spacingAndGlyphs">Upregulated</text>
<path d="M169.2,815.2 V887.9" stroke="#555" stroke-width="0.6" stroke-dasharray="0.8,2.2" fill="none"/>
<path d="M214.2,815.2 V887.9" stroke="#555" stroke-width="0.6" stroke-dasharray="0.8,2.2" fill="none"/>
<rect x="120.20" y="821.20" width="66.90" height="9.50" fill="#b38a2a" stroke="#3c3c3c" stroke-width="0.5"/>
<rect x="196.70" y="821.20" width="40.20" height="9.50" fill="#b38a2a" stroke="#3c3c3c" stroke-width="0.5"/>
<text x="-0.30" y="829.15" font-size="8.4" textLength="118.10" lengthAdjust="spacingAndGlyphs">Regulation of metal ion transport</text>
<text x="240.50" y="829.15" font-size="8.4" textLength="49.30" lengthAdjust="spacingAndGlyphs">NADP binding</text>
<rect x="141.50" y="834.30" width="45.60" height="9.30" fill="#b38a2a" stroke="#3c3c3c" stroke-width="0.5"/>
<rect x="196.70" y="834.30" width="28.90" height="9.30" fill="#b38a2a" stroke="#3c3c3c" stroke-width="0.5"/>
<text x="37.10" y="842.15" font-size="8.4" textLength="102.00" lengthAdjust="spacingAndGlyphs">Circadian clock entrainment</text>
<text x="228.40" y="842.15" font-size="8.4" textLength="84.40" lengthAdjust="spacingAndGlyphs">Oxidoreductase activity</text>
<rect x="150.70" y="847.40" width="36.40" height="9.30" fill="#b38a2a" stroke="#3c3c3c" stroke-width="0.5"/>
<rect x="196.70" y="847.40" width="28.90" height="9.30" fill="#b38a2a" stroke="#3c3c3c" stroke-width="0.5"/>
<text x="37.60" y="855.25" font-size="8.4" textLength="110.70" lengthAdjust="spacingAndGlyphs">Positive regulation of transport</text>
<text x="227.90" y="855.25" font-size="8.4" textLength="120.40" lengthAdjust="spacingAndGlyphs">Arachidonate—CoA ligase activity</text>
<rect x="154.30" y="860.20" width="32.80" height="9.30" fill="#b38a2a" stroke="#3c3c3c" stroke-width="0.5"/>
<rect x="196.70" y="860.20" width="28.90" height="9.30" fill="#b38a2a" stroke="#3c3c3c" stroke-width="0.5"/>
<text x="98.60" y="868.05" font-size="8.4" textLength="53.30" lengthAdjust="spacingAndGlyphs">Kinase binding</text>
<text x="228.40" y="868.05" font-size="8.4" textLength="68.80" lengthAdjust="spacingAndGlyphs">Ferroxidase activity</text>
<rect x="158.50" y="873.30" width="28.60" height="9.30" fill="#b38a2a" stroke="#3c3c3c" stroke-width="0.5"/>
<rect x="196.70" y="873.30" width="26.00" height="9.30" fill="#b38a2a" stroke="#3c3c3c" stroke-width="0.5"/>
<text x="93.40" y="881.15" font-size="8.4" textLength="63.90" lengthAdjust="spacingAndGlyphs">Symporter activity</text>
<text x="224.40" y="881.15" font-size="8.4" textLength="128.30" lengthAdjust="spacingAndGlyphs">Intracellular cAMP-activated activity</text>
<path d="M188,815 V887.9 M195.8,815 V887.9" stroke="#9a9a9a" stroke-width="0.9" fill="none"/>
<path d="M117,887.9 H188 M195.8,887.9 H266" stroke="#4d4d4d" stroke-width="0.7" fill="none"/>
<path d="M117.00,887.9 v2.2 M195.80,887.9 v2.2" stroke="#4d4d4d" stroke-width="0.7"/>
<text x="116.70" y="901.20" font-size="9.0" text-anchor="middle" fill="#333" textLength="8.80" lengthAdjust="spacingAndGlyphs">−5</text>
<text x="195.80" y="901.20" font-size="9.0" text-anchor="middle" fill="#333">0</text>
<path d="M131.20,887.9 v2.2 M209.84,887.9 v2.2" stroke="#4d4d4d" stroke-width="0.7"/>
<text x="130.90" y="901.20" font-size="9.0" text-anchor="middle" fill="#333" textLength="8.80" lengthAdjust="spacingAndGlyphs">−4</text>
<text x="209.84" y="901.20" font-size="9.0" text-anchor="middle" fill="#333">1</text>
<path d="M145.40,887.9 v2.2 M223.88,887.9 v2.2" stroke="#4d4d4d" stroke-width="0.7"/>
<text x="145.10" y="901.20" font-size="9.0" text-anchor="middle" fill="#333" textLength="8.80" lengthAdjust="spacingAndGlyphs">−3</text>
<text x="223.88" y="901.20" font-size="9.0" text-anchor="middle" fill="#333">2</text>
<path d="M159.60,887.9 v2.2 M237.92,887.9 v2.2" stroke="#4d4d4d" stroke-width="0.7"/>
<text x="159.30" y="901.20" font-size="9.0" text-anchor="middle" fill="#333" textLength="8.80" lengthAdjust="spacingAndGlyphs">−2</text>
<text x="237.92" y="901.20" font-size="9.0" text-anchor="middle" fill="#333">3</text>
<path d="M173.80,887.9 v2.2 M251.96,887.9 v2.2" stroke="#4d4d4d" stroke-width="0.7"/>
<text x="173.50" y="901.20" font-size="9.0" text-anchor="middle" fill="#333" textLength="8.80" lengthAdjust="spacingAndGlyphs">−1</text>
<text x="251.96" y="901.20" font-size="9.0" text-anchor="middle" fill="#333">4</text>
<path d="M188.00,887.9 v2.2 M266.00,887.9 v2.2" stroke="#4d4d4d" stroke-width="0.7"/>
<text x="186.70" y="901.20" font-size="9.0" text-anchor="middle" fill="#333">0</text>
<text x="266.00" y="901.20" font-size="9.0" text-anchor="middle" fill="#333">5</text>
<text x="134.40" y="915.20" font-size="9.9" fill="#333" textLength="35.80" lengthAdjust="spacingAndGlyphs">−log<tspan font-size="7" dy="2.8">10</tspan><tspan dy="-2.8">(</tspan><tspan font-style="italic">P</tspan>)</text>
<text x="213.50" y="915.20" font-size="9.9" fill="#333" textLength="35.50" lengthAdjust="spacingAndGlyphs">−log<tspan font-size="7" dy="2.8">10</tspan><tspan dy="-2.8">(</tspan><tspan font-style="italic">P</tspan>)</text>
</g>
<!-- panel_h -->
<g id="panel_h">
<text x="367.95" y="396.25" font-size="13.6" font-weight="bold" stroke="#231f20" stroke-width="0.5" textLength="8.72" lengthAdjust="spacingAndGlyphs">h</text>
<rect x="379.4" y="387.2" width="301.6" height="14.8" fill="#fff" stroke="#4d4d4d" stroke-width="0.7"/>
<text x="424.40" y="397.30" font-size="9.3" textLength="216.60" lengthAdjust="spacingAndGlyphs">AD-related ‘umbrella’ pathways (Murdock &amp; Tsai<tspan font-size="6.6" dy="-3.6">24</tspan><tspan dy="3.6">)</tspan></text>
<text x="394.80" y="419.65" font-size="9.3" textLength="111.10" lengthAdjust="spacingAndGlyphs">Upregulated AD pathways</text>
<text x="550.80" y="420.06" font-size="9.3" textLength="123.00" lengthAdjust="spacingAndGlyphs">Downregulated AD pathways</text>
<path d="M450.30,425.50 A67.4,67.4 0 0 1 512.90,517.88 L468.60,500.20 A19.7,19.7 0 0 0 450.30,473.20Z" fill="#7f2a90" stroke="#fff" stroke-width="0.6" stroke-linejoin="round"/>
<path d="M512.90,517.88 A67.4,67.4 0 0 1 489.92,547.43 L461.88,508.84 A19.7,19.7 0 0 0 468.60,500.20Z" fill="#6a0c30" stroke="#fff" stroke-width="0.6" stroke-linejoin="round"/>
<path d="M489.92,547.43 A67.4,67.4 0 0 1 391.93,526.60 L433.24,502.75 A19.7,19.7 0 0 0 461.88,508.84Z" fill="#d45fa6" stroke="#fff" stroke-width="0.6" stroke-linejoin="round"/>
<path d="M391.93,526.60 A67.4,67.4 0 0 1 387.59,517.60 L431.97,500.12 A19.7,19.7 0 0 0 433.24,502.75Z" fill="#f5a81f" stroke="#fff" stroke-width="0.6" stroke-linejoin="round"/>
<path d="M387.59,517.60 A67.4,67.4 0 0 1 383.88,504.37 L430.89,496.25 A19.7,19.7 0 0 0 431.97,500.12Z" fill="#262262" stroke="#fff" stroke-width="0.6" stroke-linejoin="round"/>
<path d="M383.88,504.37 A67.4,67.4 0 0 1 450.30,425.50 L450.30,473.20 A19.7,19.7 0 0 0 430.89,496.25Z" fill="#0e79ba" stroke="#fff" stroke-width="0.6" stroke-linejoin="round"/>
<circle cx="450.3" cy="492.9" r="67.4" fill="none" stroke="#2b2b3b" stroke-width="0.6"/>
<circle cx="450.3" cy="492.9" r="19.7" fill="#fff" stroke="#2b2b3b" stroke-width="0.6"/>
<path d="M612.40,425.80 A68.0,68.0 0 1 1 592.52,558.83 L606.55,512.93 A20,20 0 1 0 612.40,473.80Z" fill="#7f2a90" stroke="#fff" stroke-width="0.6" stroke-linejoin="round"/>
<path d="M592.52,558.83 A68.0,68.0 0 0 1 546.97,512.32 L593.16,499.25 A20,20 0 0 0 606.55,512.93Z" fill="#6a0c30" stroke="#fff" stroke-width="0.6" stroke-linejoin="round"/>
<path d="M546.97,512.32 A68.0,68.0 0 0 1 555.37,456.76 L595.63,482.91 A20,20 0 0 0 593.16,499.25Z" fill="#d45fa6" stroke="#fff" stroke-width="0.6" stroke-linejoin="round"/>
<path d="M555.37,456.76 A68.0,68.0 0 0 1 557.99,453.02 L596.40,481.81 A20,20 0 0 0 595.63,482.91Z" fill="#f5a81f" stroke="#fff" stroke-width="0.6" stroke-linejoin="round"/>
<path d="M557.99,453.02 A68.0,68.0 0 0 1 574.08,437.63 L601.13,477.28 A20,20 0 0 0 596.40,481.81Z" fill="#262262" stroke="#fff" stroke-width="0.6" stroke-linejoin="round"/>
<path d="M574.08,437.63 A68.0,68.0 0 0 1 612.40,425.80 L612.40,473.80 A20,20 0 0 0 601.13,477.28Z" fill="#0e79ba" stroke="#fff" stroke-width="0.6" stroke-linejoin="round"/>
<circle cx="612.4" cy="493.8" r="68.0" fill="none" stroke="#2b2b3b" stroke-width="0.6"/>
<circle cx="612.4" cy="493.8" r="20" fill="#fff" stroke="#2b2b3b" stroke-width="0.6"/>
<text x="523.60" y="561.75" font-size="9.3" textLength="15.50" lengthAdjust="spacingAndGlyphs">Key</text>
<path d="M472.5,564.2 H591" stroke="#8c8c8c" stroke-width="0.8"/>
<rect x="415.6" y="568.50" width="7.8" height="7.8" fill="#7f2a90" stroke="#2b2b3b" stroke-width="0.5"/>
<text x="426.70" y="575.48" font-size="8.5" textLength="122.20" lengthAdjust="spacingAndGlyphs">Lipids, metabolism, mitochondria</text>
<rect x="561.6" y="568.50" width="7.8" height="7.8" fill="#f5a81f" stroke="#2b2b3b" stroke-width="0.5"/>
<text x="573.40" y="575.48" font-size="8.5" textLength="10.30" lengthAdjust="spacingAndGlyphs">Aβ</text>
<rect x="415.6" y="579.50" width="7.8" height="7.8" fill="#6a0c30" stroke="#2b2b3b" stroke-width="0.5"/>
<text x="426.70" y="586.48" font-size="8.5" textLength="84.60" lengthAdjust="spacingAndGlyphs">Inflammatory signaling</text>
<rect x="561.6" y="579.50" width="7.8" height="7.8" fill="#262262" stroke="#2b2b3b" stroke-width="0.5"/>
<text x="573.40" y="586.48" font-size="8.5" textLength="106.30" lengthAdjust="spacingAndGlyphs">Apoptosis &amp; cell death/stress</text>
<rect x="415.6" y="590.60" width="7.8" height="7.8" fill="#d45fa6" stroke="#2b2b3b" stroke-width="0.5"/>
<text x="426.70" y="597.58" font-size="8.5" textLength="127.90" lengthAdjust="spacingAndGlyphs">Cytoskeleton &amp; blood–brain barrier</text>
<rect x="561.6" y="590.60" width="7.8" height="7.8" fill="#0e79ba" stroke="#2b2b3b" stroke-width="0.5"/>
<text x="573.40" y="597.58" font-size="8.5" textLength="67.90" lengthAdjust="spacingAndGlyphs">Neurotransmission</text>
</g>
<!-- panel_i -->
<g id="panel_i">
<text x="368.32" y="621.08" font-size="15" font-weight="bold" stroke="#231f20" stroke-width="0.25" textLength="4.58" lengthAdjust="spacingAndGlyphs">i</text>
<rect x="472.70" y="638.00" width="126.44" height="9.50" fill="#ee484c" stroke="#3c3c3c" stroke-width="0.5"/>
<rect x="472.70" y="651.90" width="115.11" height="9.50" fill="#27ae86" stroke="#3c3c3c" stroke-width="0.5"/>
<rect x="472.70" y="665.40" width="151.35" height="9.50" fill="#6166b0" stroke="#3c3c3c" stroke-width="0.5"/>
<rect x="472.70" y="679.20" width="124.17" height="9.40" fill="#b28a2c" stroke="#3c3c3c" stroke-width="0.5"/>
<rect x="472.70" y="705.10" width="112.85" height="9.30" fill="#ee484c" stroke="#3c3c3c" stroke-width="0.5"/>
<rect x="472.70" y="718.80" width="90.20" height="9.20" fill="#27ae86" stroke="#3c3c3c" stroke-width="0.5"/>
<rect x="472.70" y="732.50" width="133.24" height="9.20" fill="#6166b0" stroke="#3c3c3c" stroke-width="0.5"/>
<rect x="472.70" y="746.30" width="101.53" height="9.30" fill="#b28a2c" stroke="#3c3c3c" stroke-width="0.5"/>
<rect x="472.70" y="771.80" width="15.46" height="9.50" fill="#ee484c" stroke="#3c3c3c" stroke-width="0.5"/>
<rect x="472.70" y="785.30" width="22.25" height="9.50" fill="#27ae86" stroke="#3c3c3c" stroke-width="0.5"/>
<rect x="472.70" y="798.80" width="24.52" height="9.40" fill="#6166b0" stroke="#3c3c3c" stroke-width="0.5"/>
<rect x="472.70" y="812.70" width="15.46" height="9.50" fill="#b28a2c" stroke="#3c3c3c" stroke-width="0.5"/>
<rect x="472.70" y="838.60" width="13.19" height="9.40" fill="#ee484c" stroke="#3c3c3c" stroke-width="0.5"/>
<rect x="472.70" y="864.20" width="10.93" height="9.40" fill="#27ae86" stroke="#3c3c3c" stroke-width="0.5"/>
<path d="M472.3,633 V878.6 H653.50" fill="none" stroke="#666" stroke-width="0.8"/>
<path d="M472.30,878.6 v3" stroke="#666" stroke-width="0.8"/>
<text x="472.30" y="892.20" font-size="9.3" text-anchor="middle" fill="#333">0</text>
<path d="M517.60,878.6 v3" stroke="#666" stroke-width="0.8"/>
<text x="517.60" y="892.20" font-size="9.3" text-anchor="middle" fill="#333">20</text>
<path d="M562.90,878.6 v3" stroke="#666" stroke-width="0.8"/>
<text x="562.90" y="892.20" font-size="9.3" text-anchor="middle" fill="#333">40</text>
<path d="M608.20,878.6 v3" stroke="#666" stroke-width="0.8"/>
<text x="608.20" y="892.20" font-size="9.3" text-anchor="middle" fill="#333">60</text>
<path d="M653.50,878.6 v3" stroke="#666" stroke-width="0.8"/>
<text x="653.50" y="892.20" font-size="9.3" text-anchor="middle" fill="#333">80</text>
<path d="M469.3,663.4 H472.3" stroke="#666" stroke-width="0.8"/>
<path d="M469.3,730 H472.3" stroke="#666" stroke-width="0.8"/>
<path d="M469.3,797 H472.3" stroke="#666" stroke-width="0.8"/>
<path d="M469.3,843.3 H472.3" stroke="#666" stroke-width="0.8"/>
<path d="M469.3,868.9 H472.3" stroke="#666" stroke-width="0.8"/>
<text x="458.30" y="905.36" font-size="9.3" fill="#333" textLength="209.20" lengthAdjust="spacingAndGlyphs">Percentage overlap with transcriptomic datasets</text>
<text x="441.40" y="660.68" font-size="9.1" textLength="24.40" lengthAdjust="spacingAndGlyphs">LOAD</text>
<text x="381.90" y="671.70" font-size="9.1" textLength="83.90" lengthAdjust="spacingAndGlyphs">(De Bastiani et al.<tspan font-size="6.6" dy="-3.6">25</tspan><tspan dy="3.6">)</tspan></text>
<text x="367.00" y="727.08" font-size="9.1" textLength="98.80" lengthAdjust="spacingAndGlyphs">Early-onset AD &amp; LOAD</text>
<text x="381.90" y="738.70" font-size="9.1" textLength="83.90" lengthAdjust="spacingAndGlyphs">(De Bastiani et al.<tspan font-size="6.6" dy="-3.6">25</tspan><tspan dy="3.6">)</tspan></text>
<text x="374.00" y="792.98" font-size="9.1" textLength="91.80" lengthAdjust="spacingAndGlyphs">APOE2 versus APOE4</text>
<text x="406.90" y="804.50" font-size="9.1" textLength="58.90" lengthAdjust="spacingAndGlyphs">(Zhao et al.<tspan font-size="6.6" dy="-3.6">26</tspan><tspan dy="3.6">)</tspan></text>
<text x="418.90" y="839.38" font-size="9.1" textLength="46.90" lengthAdjust="spacingAndGlyphs">DAA genes</text>
<text x="402.90" y="850.40" font-size="9.1" textLength="62.90" lengthAdjust="spacingAndGlyphs">(Habib et al.<tspan font-size="6.6" dy="-3.6">27</tspan><tspan dy="3.6">)</tspan></text>
<text x="417.90" y="865.38" font-size="9.1" textLength="47.90" lengthAdjust="spacingAndGlyphs">DAM genes</text>
<text x="376.50" y="876.40" font-size="9.1" textLength="89.30" lengthAdjust="spacingAndGlyphs">(Keren-Shaul et al.<tspan font-size="6.6" dy="-3.6">28</tspan><tspan dy="3.6">)</tspan></text>
<text x="592.60" y="799.55" font-size="9.3" textLength="16.00" lengthAdjust="spacingAndGlyphs">Key</text>
<path d="M592.6,803.2 H608.6" stroke="#4d4d4d" stroke-width="0.7"/>
<rect x="578.2" y="808.60" width="8.1" height="8.1" fill="#ee484c" stroke="#3c3c3c" stroke-width="0.5"/>
<text x="590.60" y="815.38" font-size="8.5" textLength="38.50" lengthAdjust="spacingAndGlyphs">Astrocytes</text>
<rect x="578.2" y="820.60" width="8.1" height="8.1" fill="#27ae86" stroke="#3c3c3c" stroke-width="0.5"/>
<text x="590.60" y="827.38" font-size="8.5" textLength="33.00" lengthAdjust="spacingAndGlyphs">Microglia</text>
<rect x="578.2" y="832.60" width="8.1" height="8.1" fill="#6166b0" stroke="#3c3c3c" stroke-width="0.5"/>
<text x="590.60" y="839.38" font-size="8.5" textLength="65.40" lengthAdjust="spacingAndGlyphs">Oligodendrocytes</text>
<rect x="578.2" y="844.10" width="8.1" height="8.1" fill="#b28a2c" stroke="#3c3c3c" stroke-width="0.5"/>
<text x="590.60" y="850.88" font-size="8.5" textLength="59.90" lengthAdjust="spacingAndGlyphs">Endothelial cells</text>
</g>

</svg>
</body></html>
